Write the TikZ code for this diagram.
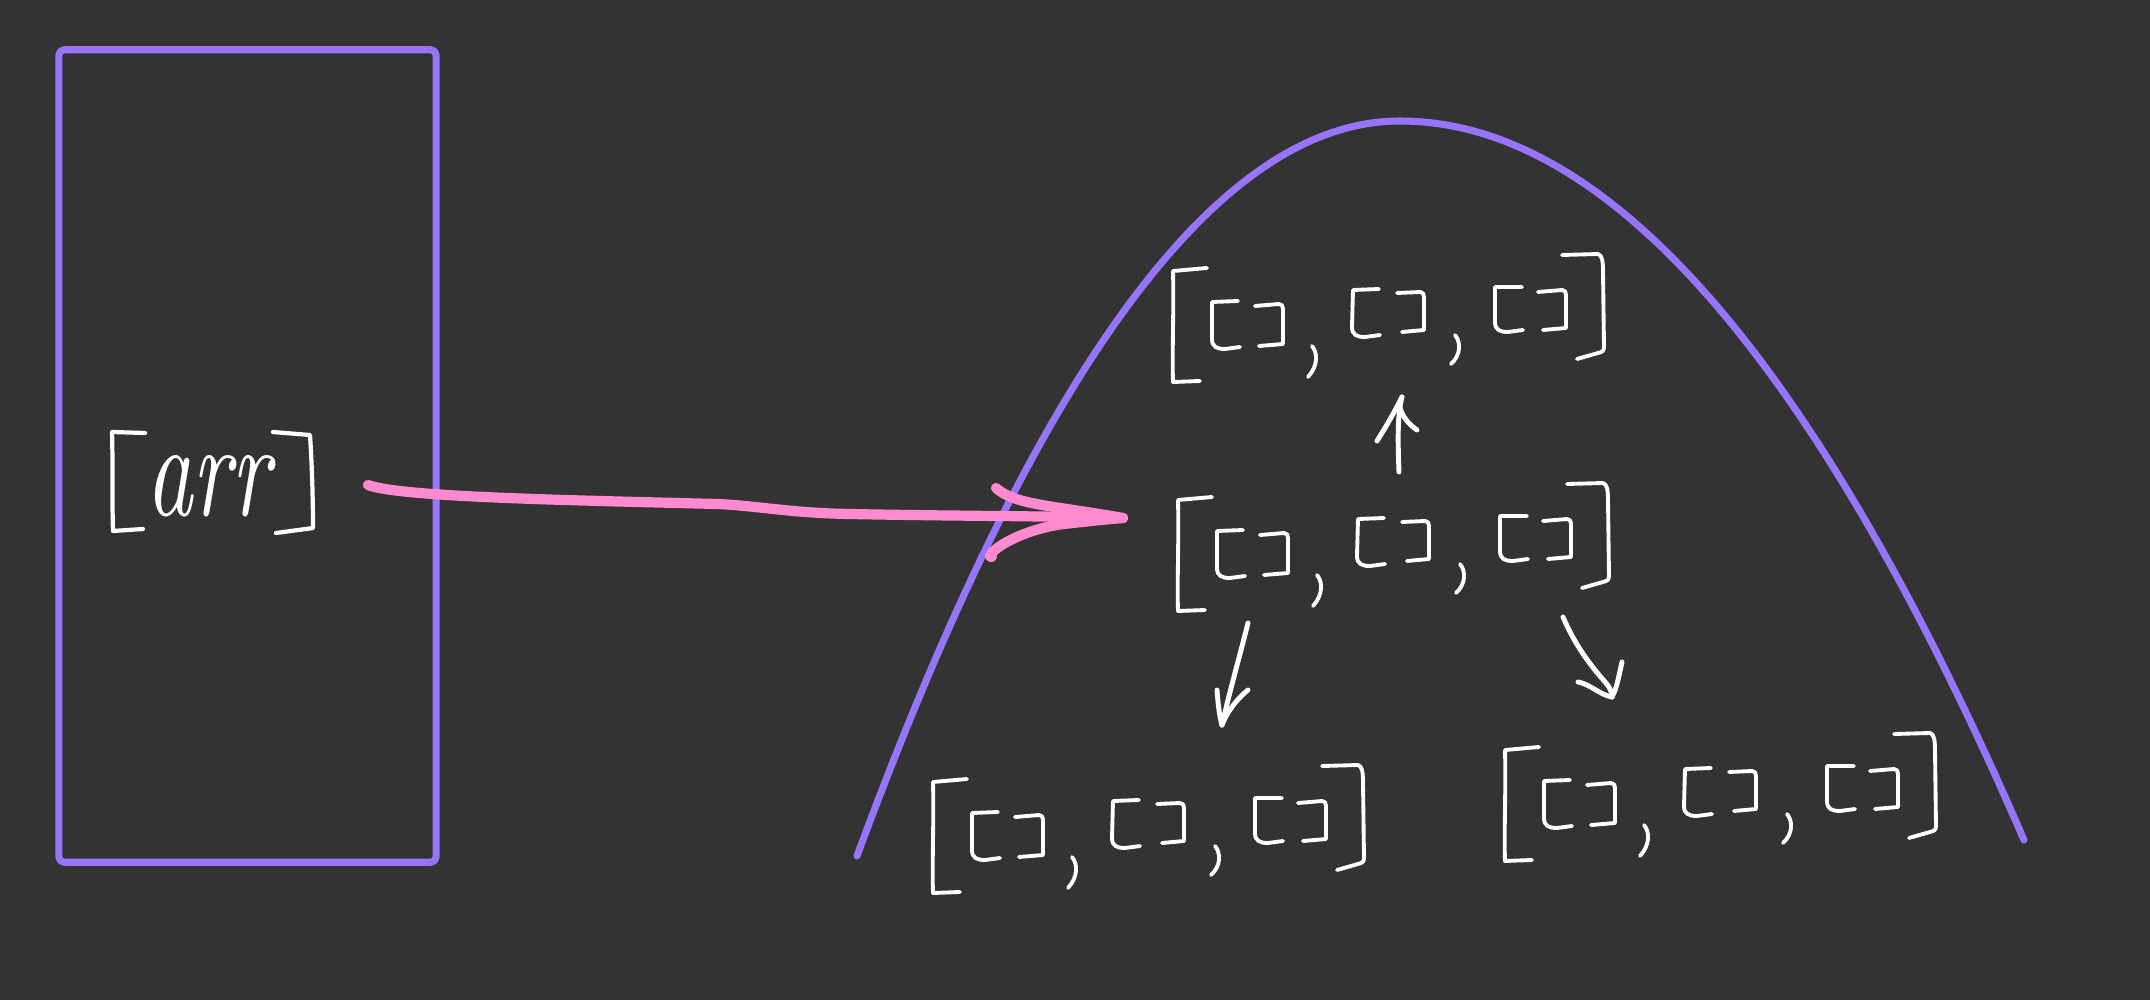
\documentclass[tikz,border=0pt]{standalone}
\usepackage{graphicx}
\definecolor{boardbg}{RGB}{51,51,51}
\definecolor{violetink}{RGB}{151,117,250}
\definecolor{pinkink}{RGB}{255,138,208}
\tikzset{
  ink/.style={draw=white, line width=1.1pt, line cap=round, line join=round},
  inkarrow/.style={draw=white, line width=1.4pt, line cap=round, line join=round},
  violetpen/.style={draw=violetink, line width=2pt, line cap=round, line join=round},
  pinkpen/.style={draw=pinkink, line width=2.9pt, line cap=round, line join=round},
  % a hand-drawn list of three empty lists: [[ ], [ ], [ ]]
  listsketch/.pic={
    % outer opening bracket
    \draw[ink] (34,-3) -- (0,0) .. controls (1,40) and (-1,80) .. (0,111) -- (27,110);
    % first inner pair
    \draw[ink] (65,30) -- (39,31) -- (39,68) .. controls (39,76) and (44,78) .. (52,78) -- (67,76);
    \draw[ink] (82,35) -- (106,33) .. controls (109,33) and (110,35) .. (110,38) -- (110,73) -- (86,75);
    \draw[ink] (139,75) .. controls (145,82) and (145,95) .. (135,106);
    % second inner pair
    \draw[ink] (206,18) -- (180,19) -- (179,56) .. controls (179,64) and (184,66) .. (192,66) -- (207,64);
    \draw[ink] (224,22) -- (247,21) .. controls (250,21) and (251,23) .. (251,26) -- (251,59) -- (229,61);
    \draw[ink] (282,64) .. controls (288,71) and (288,84) .. (278,93);
    % third inner pair
    \draw[ink] (349,16) -- (322,16) -- (322,51) .. controls (322,59) and (327,61) .. (335,61) -- (350,59);
    \draw[ink] (365,21) -- (389,19) .. controls (392,19) and (393,21) .. (393,24) -- (393,57) -- (370,59);
    % outer closing bracket
    \draw[ink] (389,-16) -- (425,-17) .. controls (429,-16) and (430,-10) .. (430,0)
      -- (431,76) .. controls (431,80) and (429,81) .. (425,82) -- (404,88);
  }
}
\begin{document}
\begin{tikzpicture}[x=0.01cm, y=-0.01cm]
\useasboundingbox (0,0) rectangle (2150,1000);
\fill[boardbg] (0,0) rectangle (2150,1000);

% source array box
\node[violetpen, rounded corners=1.5pt, minimum width=3.77cm, minimum height=8.12cm,
      inner sep=0, outer sep=0] (srcbox) at (247.5,456) {};
\node[text=white, inner sep=0] (arrword) at (208,486)
  {\resizebox{1.23cm}{0.6cm}{\itshape arr}};
\draw[ink, line width=1.2pt] (145,433) -- (112,432) .. controls (113,465) and (112,500) .. (113,531) -- (143,529);
\draw[ink, line width=1.2pt] (273,432) -- (310,435) .. controls (312,465) and (313,500) .. (313,528) -- (276,533);

% recursion hill: two parabolic arcs meeting at the top
\coordinate (hillLeft) at (857,856);
\coordinate (hillTop) at (1400,121);
\coordinate (hillRight) at (2024,840);
\draw[violetpen] (hillLeft) .. controls (1038,366) and (1219,121) .. (hillTop)
  .. controls (1608,121) and (1816,360) .. (hillRight);

% list sketches
\coordinate (listTop) at (1173,271);
\coordinate (listMid) at (1178,500);
\coordinate (listLeft) at (933,782);
\coordinate (listRight) at (1505,750);
\pic at (listTop) {listsketch};
\pic at (listMid) {listsketch};
\pic at (listLeft) {listsketch};
\pic at (listRight) {listsketch};

% pink arrow into the middle list
\coordinate (pinkStart) at (368,485);
\coordinate (pinkTip) at (1123,518);
\draw[pinkpen] (pinkStart) .. controls (400,497) and (560,500) .. (718,504)
  .. controls (760,506) and (790,513) .. (850,514) .. controls (950,516) and (1050,516) .. (pinkTip);
\draw[pinkpen] (996,488) .. controls (1015,505) and (1050,505) .. (pinkTip);
\draw[pinkpen] (990,556) .. controls (995,545) and (1030,528) .. (1064,524) .. controls (1090,521) and (1110,519) .. (pinkTip);
\fill[pinkink] (991,556) circle (6);

% up arrow
\coordinate (upFrom) at (1399,472);
\coordinate (upTo) at (1402,397);
\draw[inkarrow] (upFrom) .. controls (1398,445) and (1397,415) .. (upTo);
\draw[inkarrow] (1377,441) .. controls (1385,428) and (1393,415) .. (upTo);
\draw[inkarrow] (1417,430) .. controls (1410,425) and (1402,418) .. (1399,404);

% down-left arrow
\coordinate (dlFrom) at (1248,623);
\coordinate (dlTo) at (1222,725);
\draw[inkarrow] (dlFrom) .. controls (1240,655) and (1230,690) .. (dlTo);
\draw[inkarrow] (1217,690) .. controls (1218,702) and (1219,715) .. (dlTo);
\draw[inkarrow] (1248,690) .. controls (1238,698) and (1228,710) .. (dlTo);

% down-right arrow
\coordinate (drFrom) at (1563,617);
\coordinate (drTo) at (1612,697);
\draw[inkarrow] (drFrom) .. controls (1575,645) and (1590,665) .. (1606,683) .. controls (1610,688) and (1612,692) .. (drTo);
\draw[inkarrow] (1622,662) .. controls (1619,675) and (1617,688) .. (drTo);
\draw[inkarrow] (1578,682) .. controls (1590,684) and (1600,695) .. (drTo);
\end{tikzpicture}
\end{document}
